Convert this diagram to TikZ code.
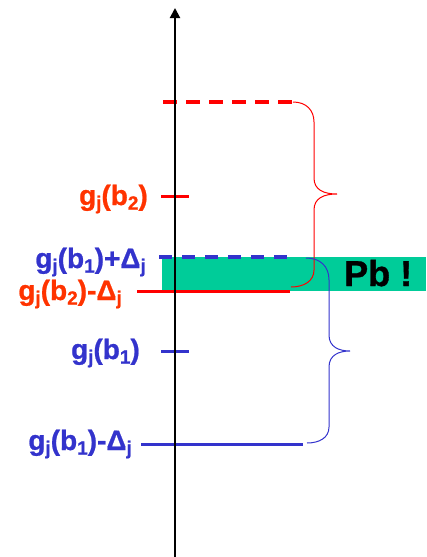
\documentclass[tikz,border=0pt]{standalone}
\usepackage{fontspec}
\setmainfont{Liberation Sans}
\usetikzlibrary{arrows.meta}
\definecolor{lvred}{RGB}{255,0,0}
\definecolor{lbred}{RGB}{255,51,0}
\definecolor{lvblue}{RGB}{51,51,204}
\definecolor{zone}{RGB}{0,204,153}
\newcommand\lsub[1]{\raisebox{-4.5pt}{\fontsize{19}{19}\selectfont\addfontfeature{FakeBold=0.8}#1}}
\tikzset{
  lbl/.style={font=\fontsize{28}{28}\selectfont\bfseries\addfontfeature{FakeBold=0.8}, inner sep=0pt, anchor=base east},
  tick line/.style={line width=3pt},
  dash line/.style={line width=4pt, dash pattern=on 14pt off 9pt},
  brace line/.style={line width=1pt},
}
\begin{document}
\begin{tikzpicture}[x=1pt,y=-1pt]
\useasboundingbox (0,0) rectangle (426,557);

% ambiguous zone
\fill[zone] (162,257) rectangle (426,291);
\node[font=\fontsize{36}{36}\selectfont\bfseries\addfontfeature{FakeBold=1}, inner sep=0pt, anchor=base west] (pb) at (344,286) {Pb !};

% level lines
\coordinate (rdA) at (163,102);  \coordinate (rdB) at (293,102);
\coordinate (rtA) at (161,196);  \coordinate (rtB) at (189,196);
\coordinate (bdA) at (159,257);  \coordinate (bdB) at (289,257);
\coordinate (rsA) at (137,291);  \coordinate (rsB) at (290,291);
\coordinate (btA) at (161,351);  \coordinate (btB) at (189,351);
\coordinate (bsA) at (141,444);  \coordinate (bsB) at (303,444);

\draw[lvred, dash line] (rdA) -- (rdB);
\draw[lvred, tick line] (rtA) -- (rtB);
\draw[lvblue, dash line, dash pattern=on 13pt off 10pt] (bdA) -- (bdB);
\draw[lvred, tick line] (rsA) -- (rsB);
\draw[lvblue, tick line] (btA) -- (btB);
\draw[lvblue, tick line] (bsA) -- (bsB);

% braces
\coordinate (rbTop) at (293,102);
\coordinate (rbTip) at (337,194);
\coordinate (rbBot) at (291,287);
\draw[lvred, brace line] (rbTop) .. controls (306,102) and (314,110) .. (314,122)
  -- (314,178) .. controls (314,190) and (324,194) .. (rbTip)
  .. controls (324,194) and (314,198) .. (314,210)
  -- (314,270) .. controls (314,281) and (304,287) .. (rbBot);
\coordinate (bbTop) at (306,258);
\coordinate (bbTip) at (350,351);
\coordinate (bbBot) at (307,443);
\draw[lvblue, brace line] (bbTop) .. controls (320,258) and (329,266) .. (329,280)
  -- (329,335) .. controls (329,347) and (339,351) .. (bbTip)
  .. controls (339,351) and (329,355) .. (329,367)
  -- (329,427) .. controls (329,438) and (319,443) .. (bbBot);

% axis
\coordinate (axB) at (175,557);
\coordinate (axT) at (175,8);
\draw[line width=2pt, -{Triangle[width=10pt,length=10pt]}] (axB) -- (axT);

% labels
\node[lbl, lbred] (lb2) at (148,205) {g\lsub{j}(b\lsub{2})};
\node[lbl, lvblue] (lb1p) at (146,268) {g\lsub{j}(b\lsub{1})+Δ\lsub{j}};
\node[lbl, lbred] (lb2m) at (122,300) {g\lsub{j}(b\lsub{2})-Δ\lsub{j}};
\node[lbl, lvblue] (lb1) at (140,359) {g\lsub{j}(b\lsub{1})};
\node[lbl, lvblue] (lb1m) at (132,450) {g\lsub{j}(b\lsub{1})-Δ\lsub{j}};
\end{tikzpicture}
\end{document}
